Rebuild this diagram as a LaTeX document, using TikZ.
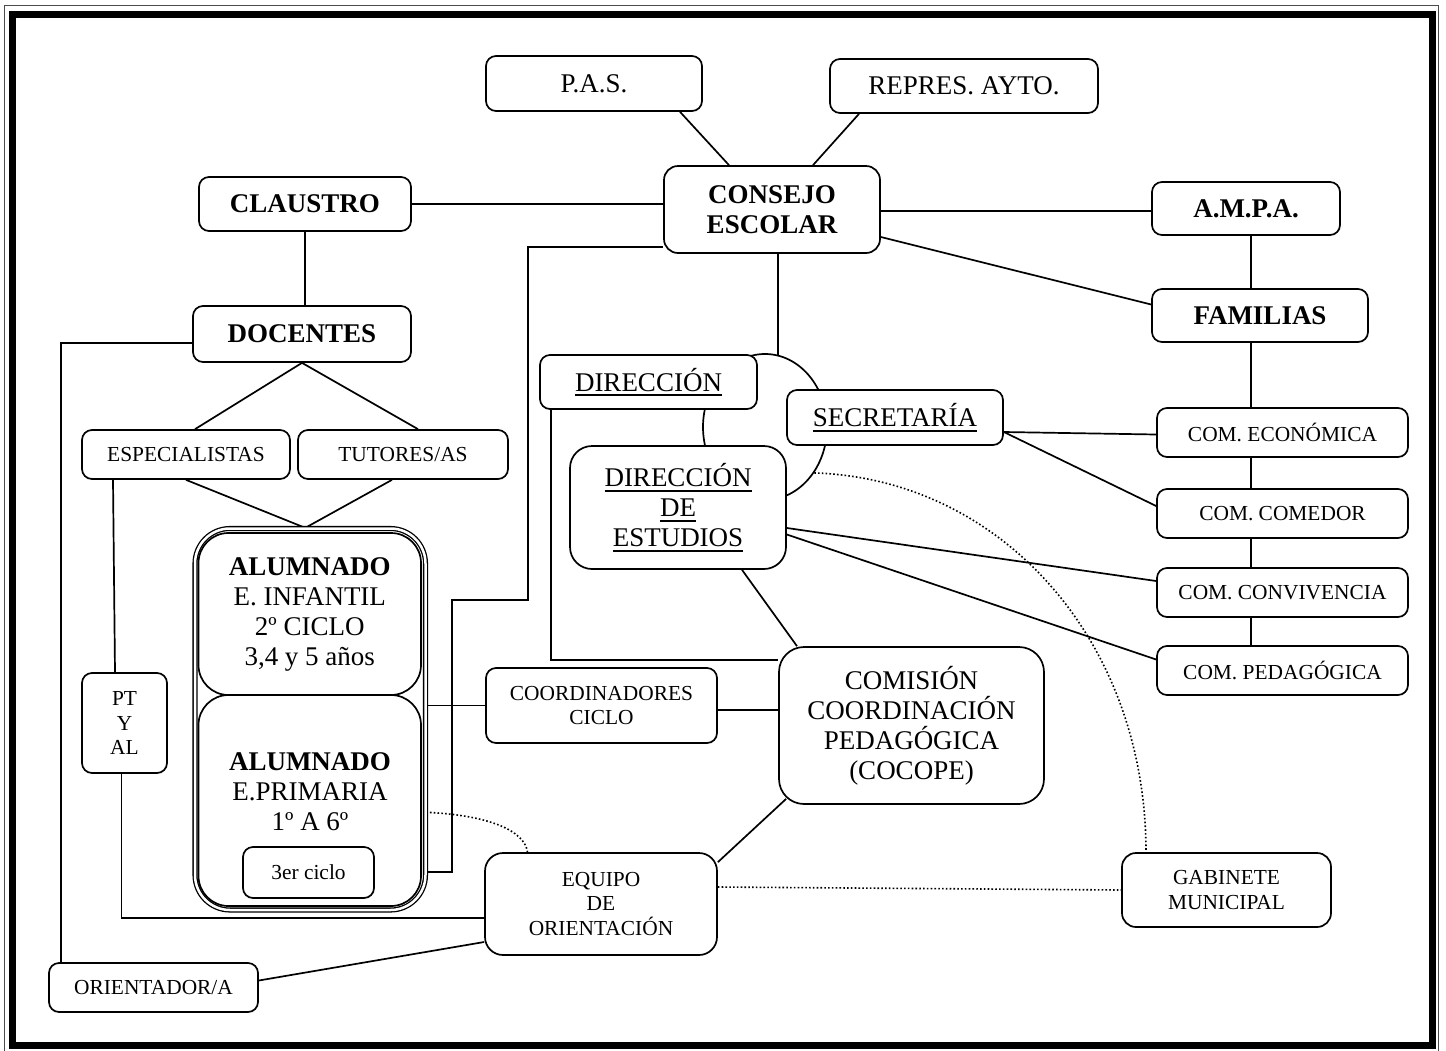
\documentclass[tikz,border=0pt]{standalone}
\usepackage{fontspec}
\setmainfont{Liberation Serif}
\usetikzlibrary{shapes.geometric,backgrounds}
\newcommand{\fzA}{\fontsize{27}{30}\selectfont}
\newcommand{\fzS}{\fontsize{21.4}{24.5}\selectfont}
\newcommand{\fzB}{\fontsize{27}{30}\selectfont\bfseries}
\newcommand{\myul}[1]{\leavevmode\setbox0=\hbox{#1}\rlap{\rule[-5pt]{\wd0}{2pt}}\box0}
\newcommand{\bx}[7]{\node[#6, minimum width={(#4-#2)*1pt}, minimum height={(#5-#3)*1pt}] (#1) at ({(#2+#4)/2},{(#3+#5)/2}) {#7};}
\tikzset{
  bx/.style={draw, line width=1.7pt, rounded corners=10pt, fill=white, align=center, inner sep=0pt, font=\fzA},
  bxs/.style={bx, font=\fzS},
  bxb/.style={bx, font=\fzB},
  dbl/.style={draw, double=white, double distance=2.5pt, line width=1.3pt, rounded corners=35pt, fill=white, inner sep=0pt},
  conn/.style={line width=1.7pt},
  dot/.style={line width=1.6pt, dash pattern=on 1.6pt off 2.2pt},
}
\begin{document}
\begin{tikzpicture}[x=1pt,y=-1pt]
\useasboundingbox (0,0) rectangle (1446,1050);
% frame
\draw[line width=1pt, black!70] (4.5,5.5) rectangle (1438.5,1052);
\draw[line width=7pt] (12.5,14.5) rectangle (1432.5,1045.5);

\node[draw, ellipse, line width=1.7pt, minimum width=124pt, minimum height=146pt, inner sep=0pt] (circ) at (765,427) {};

\bx{pas}{486}{56}{702}{111}{bx}{P.A.S.}
\bx{repres}{830}{59}{1098}{113}{bx}{REPRES. AYTO.}
\bx{claustro}{199}{177}{411}{231}{bxb}{CLAUSTRO}
\bx{consejo}{664}{166}{880}{253}{bxb, rounded corners=14pt}{CONSEJO\\ESCOLAR}
\bx{ampa}{1152}{182}{1340}{235}{bxb}{A.M.P.A.}
\bx{familias}{1152}{289}{1368}{342}{bxb}{FAMILIAS}
\bx{docentes}{193}{306}{411}{362}{bxb}{DOCENTES}
\bx{direccion}{540}{355}{757}{409}{bx}{\myul{DIRECCIÓN}}
\bx{secretaria}{787}{390}{1003}{445}{bx}{\myul{SECRETARÍA}}
\bx{direst}{570}{446}{786}{569}{bx, rounded corners=22pt}{\myul{DIRECCIÓN}\\\myul{DE}\\\myul{ESTUDIOS}}
\bx{espec}{82}{430}{290}{479}{bxs}{ESPECIALISTAS}
\bx{tutores}{298}{430}{508}{479}{bxs}{TUTORES/AS}
\bx{comeco}{1157}{408}{1408}{457}{bxs}{COM. ECONÓMICA}
\bx{comcom}{1157}{489}{1408}{538}{bxs}{COM. COMEDOR}
\bx{comconv}{1157}{568}{1408}{617}{bxs}{COM. CONVIVENCIA}
\bx{compeda}{1157}{646}{1408}{695}{bxs}{COM. PEDAGÓGICA}
\bx{alumnado}{195}{528.5}{425.5}{910}{dbl}{}
\bx{infantil}{198.5}{533}{421}{695}{bx, rounded corners=30pt}{\textbf{ALUMNADO}\\E. INFANTIL\\2º CICLO\\3,4 y 5 años}
\bx{primaria}{198.5}{695}{421}{906}{bx, rounded corners=30pt}{}
\node[font=\fzA, align=center, inner sep=0pt] (primtxt) at (310,792) {\textbf{ALUMNADO}\\E.PRIMARIA\\1º A 6º};
\bx{ciclo3}{243}{847}{374}{898}{bxs}{3er ciclo}
\bx{pt}{82}{673}{167}{773}{bxs}{PT\\Y\\AL}
\bx{coord}{486}{668}{717}{743}{bxs}{COORDINADORES\\CICLO}
\bx{cocope}{779}{647}{1044}{804}{bx, rounded corners=25pt}{COMISIÓN\\COORDINACIÓN\\PEDAGÓGICA\\(COCOPE)}
\bx{equipo}{485}{853}{717}{955}{bxs, rounded corners=18pt}{EQUIPO\\DE\\ORIENTACIÓN}
\bx{gabinete}{1122}{853}{1331}{927}{bxs, rounded corners=14pt}{GABINETE\\MUNICIPAL}
\bx{orientador}{49}{963}{258}{1012}{bxs}{ORIENTADOR/A}

\begin{pgfonlayer}{background}
\draw[conn] ([xshift=86pt]pas.south) -- ([xshift=-43pt]consejo.north);
\draw[conn] ([xshift=-105pt]repres.south) -- ([xshift=41pt]consejo.north);
\draw[conn] (claustro.east) -- (claustro.east -| consejo.west);
\draw[conn] ([yshift=-1.5pt]consejo.east) -- ([yshift=-1.5pt]consejo.east -| ampa.west);
\draw[conn] ([yshift=-27.5pt]consejo.east) -- ([yshift=11pt]familias.west);
\draw[conn] ([xshift=5pt]ampa.south) -- ([xshift=5pt]ampa.south |- compeda.north);
\draw[conn] (claustro.south) -- (claustro.south |- docentes.north);
\draw[conn] (docentes.south) -- ([xshift=9pt]espec.north);
\draw[conn] (docentes.south) -- ([xshift=15pt]tutores.north);
\draw[conn] (espec.south) -- ([xshift=-5pt]alumnado.north);
\draw[conn] ([xshift=-11pt]tutores.south) -- ([xshift=-5pt]alumnado.north);
\draw[conn] ([yshift=-9pt]docentes.west) -| ([xshift=-92.5pt]orientador.north);
\draw[conn] ([xshift=-73pt]espec.south) -- ([xshift=-9.5pt]pt.north);
\draw[conn] ([xshift=-3pt]pt.south) |- ([yshift=-14pt]equipo.west);
\draw[conn] ([yshift=7pt]orientador.east) -- ([yshift=-38pt]equipo.west);
\draw[conn] ([yshift=-37.5pt]consejo.west) -- ++(-135,0) -- ++(0,353) -- ++(-76,0) |- ([yshift=-152.75pt]alumnado.east);
\draw[conn] (alumnado.east |- coord.west) -- (coord.west);
\draw[conn] ([yshift=-4.5pt]coord.east) -- ([yshift=-4.5pt]coord.east -| cocope.west);
\draw[conn] ([xshift=-97.5pt]direccion.south) |- ([yshift=65.5pt]cocope.west);
\draw[conn] (circ.80 |- consejo.south) -- (circ.80);
\draw[conn] ([xshift=64pt]direst.south) -- ([xshift=-114.5pt]cocope.north);
\draw[conn] ([xshift=8pt,yshift=6pt]cocope.south west) -- ([yshift=-10pt]equipo.north east);
\draw[conn] ([yshift=-14.5pt]secretaria.east) -- ([yshift=-2pt]comeco.west);
\draw[conn] ([yshift=-14.5pt]secretaria.east) -- ([yshift=7.5pt]comcom.west);
\draw[conn] ([yshift=-20.5pt]direst.east) -- ([yshift=11.5pt]comconv.west);
\draw[conn] ([yshift=-27pt]direst.east) -- ([yshift=11pt]compeda.west);
\draw[dot] (circ.317) .. controls +(187,6) and +(0,-212) .. ([xshift=-80.5pt]gabinete.north);
\draw[dot] ([yshift=-93pt]alumnado.east) .. controls +(62,3) and +(-3,-22) .. ([xshift=-73.5pt]equipo.north);
\draw[dot] ([yshift=17pt]equipo.east) -- (gabinete.west);
\end{pgfonlayer}
\end{tikzpicture}
\end{document}
